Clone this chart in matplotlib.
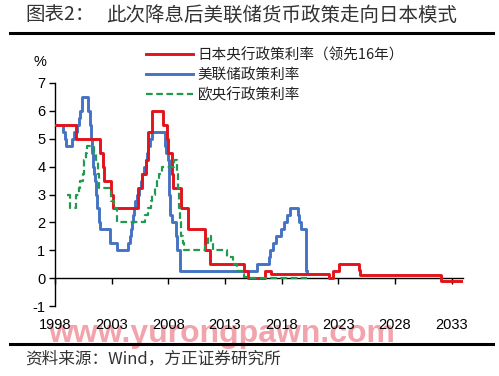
import matplotlib
matplotlib.use("Agg")
import matplotlib.pyplot as plt
from matplotlib.lines import Line2D

plt.rcParams['font.family'] = ['Noto Sans CJK SC', 'DejaVu Sans']

# Japan policy rate (shifted forward 16 years): change points
jp_years = [1998.0, 1999.85, 2002.0, 2002.2, 2002.35, 2002.9, 2003.1, 2005.35, 2005.7, 2006.0,
            2006.2, 2006.6, 2007.5, 2007.9, 2008.0, 2008.3, 2008.45, 2009.15, 2009.7, 2011.25,
            2011.7, 2014.65, 2015.05, 2016.55, 2017.1, 2022.2, 2022.5, 2023.1, 2024.8, 2024.95,
            2032.1, 2034.0]
jp_rates = [5.5, 5.0, 4.5, 4.0, 3.5, 3.0, 2.5, 3.25, 3.75, 4.25,
            5.25, 6.0, 5.5, 5.0, 4.5, 3.75, 3.25, 2.5, 1.75, 1.0,
            0.5, 0.25, 0.02, 0.25, 0.15, 0.0, 0.25, 0.5, 0.3, 0.1,
            -0.1, -0.1]

# Fed policy rate
fed_years = [1998.0, 1998.75, 1998.85, 1998.95, 1999.5, 1999.65, 1999.9, 2000.1, 2000.25, 2000.4,
             2000.95, 2001.05, 2001.15, 2001.25, 2001.35, 2001.45, 2001.55, 2001.65, 2001.75, 2001.85,
             2001.95, 2002.85, 2003.5, 2004.45, 2004.6, 2004.7, 2004.8, 2004.9, 2005.0, 2005.1,
             2005.25, 2005.4, 2005.55, 2005.7, 2005.85, 2006.0, 2006.1, 2006.25, 2006.4, 2006.55,
             2007.7, 2007.8, 2007.95, 2008.05, 2008.15, 2008.3, 2008.65, 2008.8, 2009.0, 2015.85,
             2016.85, 2017.0, 2017.25, 2017.5, 2017.9, 2018.2, 2018.45, 2018.7, 2018.95, 2019.4,
             2019.55, 2019.7, 2020.15, 2020.2]
fed_rates = [5.5, 5.25, 5.0, 4.75, 5.0, 5.25, 5.5, 5.75, 6.0, 6.5,
             6.0, 5.5, 5.0, 4.5, 4.0, 3.75, 3.5, 3.0, 2.5, 2.0,
             1.75, 1.25, 1.0, 1.25, 1.5, 1.75, 2.0, 2.25, 2.5, 2.75,
             3.0, 3.25, 3.5, 3.75, 4.0, 4.25, 4.5, 4.75, 5.0, 5.25,
             4.75, 4.5, 4.25, 3.0, 2.25, 2.0, 1.5, 1.0, 0.25, 0.5,
             0.75, 1.0, 1.25, 1.5, 1.75, 2.0, 2.25, 2.5, 2.5, 2.25,
             2.0, 1.75, 0.25, 0.25]

# ECB policy rate
ecb_years = [1999.05, 1999.3, 1999.85, 2000.1, 2000.25, 2000.45, 2000.55, 2000.7, 2000.8, 2001.4,
             2001.65, 2001.8, 2001.9, 2002.9, 2003.2, 2003.45, 2005.9, 2006.2, 2006.45, 2006.6,
             2006.8, 2007.0, 2007.2, 2007.45, 2008.5, 2008.75, 2008.85, 2008.95, 2009.05, 2009.15,
             2009.3, 2009.4, 2011.25, 2011.5, 2011.8, 2011.95, 2013.15, 2013.7, 2014.1, 2014.5,
             2014.7, 2015.05, 2020.2]
ecb_rates = [3.0, 2.5, 3.0, 3.25, 3.5, 3.75, 4.25, 4.5, 4.75, 4.5,
             4.25, 3.75, 3.25, 2.75, 2.5, 2.0, 2.25, 2.5, 2.75, 3.0,
             3.25, 3.5, 3.75, 4.0, 4.25, 3.75, 3.25, 2.5, 2.0, 1.5,
             1.25, 1.0, 1.25, 1.5, 1.25, 1.0, 0.75, 0.5, 0.25, 0.15,
             0.05, 0.0, 0.0]

series_labels = ['日本央行政策利率（领先16年）', '美联储政策利率', '欧央行政策利率']
x_ticks = [1998, 2003, 2008, 2013, 2018, 2023, 2028, 2033]
y_ticks = [-1, 0, 1, 2, 3, 4, 5, 6, 7]

W, H = 499, 376
fig = plt.figure(figsize=(W / 100, H / 100), dpi=100)
fig.patch.set_facecolor('white')

ax = fig.add_axes([55 / W, 1 - 306 / H, (463 - 55) / W, (306 - 83) / H])
ax.patch.set_visible(False)

ax.plot(jp_years, jp_rates, drawstyle='steps-post', color='#E3131B', lw=2.1, label=series_labels[0], zorder=3)
ax.plot(fed_years, fed_rates, drawstyle='steps-post', color='#4472C4', lw=2.1, label=series_labels[1], zorder=2)
ax.plot(ecb_years, ecb_rates, drawstyle='steps-post', color='#1E9B4E', lw=1.6, ls=(0, (3, 1.6)),
        label=series_labels[2], zorder=4)

ax.set_xlim(1998, 2034)
ax.set_ylim(-1, 7)
ax.set_yticks(y_ticks)
ax.set_yticklabels([str(v) for v in y_ticks])
ax.set_xticks(x_ticks)
ax.set_xticklabels([str(v) for v in x_ticks])

for s in ['top', 'right']:
    ax.spines[s].set_visible(False)
ax.spines['bottom'].set_position(('data', 0))
ax.spines['left'].set_linewidth(1.0)
ax.spines['bottom'].set_linewidth(1.0)
ax.tick_params(axis='y', direction='out', length=4, width=1.0, pad=3, labelsize=10.5, colors='black')
ax.tick_params(axis='x', direction='out', length=4, width=1.0, pad=25, labelsize=10.5, colors='black')
for lab in ax.get_xticklabels() + ax.get_yticklabels():
    lab.set_fontfamily(['Liberation Sans', 'DejaVu Sans'])
    lab.set_zorder(5)

fig.text(40 / W, 1 - 62 / H, '%', ha='center', va='center', fontsize=10.5,
         family=['Liberation Sans', 'DejaVu Sans'])

leg = fig.legend(loc='upper left', bbox_to_anchor=(146 / W, 1 - 48 / H), frameon=False,
                 fontsize=10.5, handlelength=3.2, handletextpad=0.35, labelspacing=0.38,
                 borderpad=0, borderaxespad=0)
for t in leg.get_texts():
    t.set_color('#222222')

# title
fig.text(25 / W, 1 - 15 / H, '图表2：', ha='left', va='center', fontsize=14, color='#333333')
fig.text(106 / W, 1 - 15 / H, '此次降息后美联储货币政策走向日本模式', ha='left', va='center',
         fontsize=14, color='#333333')
fig.add_artist(Line2D([10 / W, 493 / W], [1 - 33 / H] * 2, lw=2.2, color='black'))
fig.add_artist(Line2D([10 / W, 493 / W], [1 - 344 / H] * 2, lw=2.2, color='black'))

# watermark
fig.text(222 / W, 1 - 342 / H, 'www.yurongpawn.com', ha='center', va='baseline', fontsize=23,
         weight='bold', color='#F2A3AB', family=['Liberation Sans', 'DejaVu Sans'], zorder=-1)

# source
fig.text(25 / W, 1 - 359 / H, '资料来源：Wind，方正证券研究所', ha='left', va='center',
         fontsize=12, color='#333333', style='italic')

fig.savefig('out.png', dpi=100, facecolor='white')
